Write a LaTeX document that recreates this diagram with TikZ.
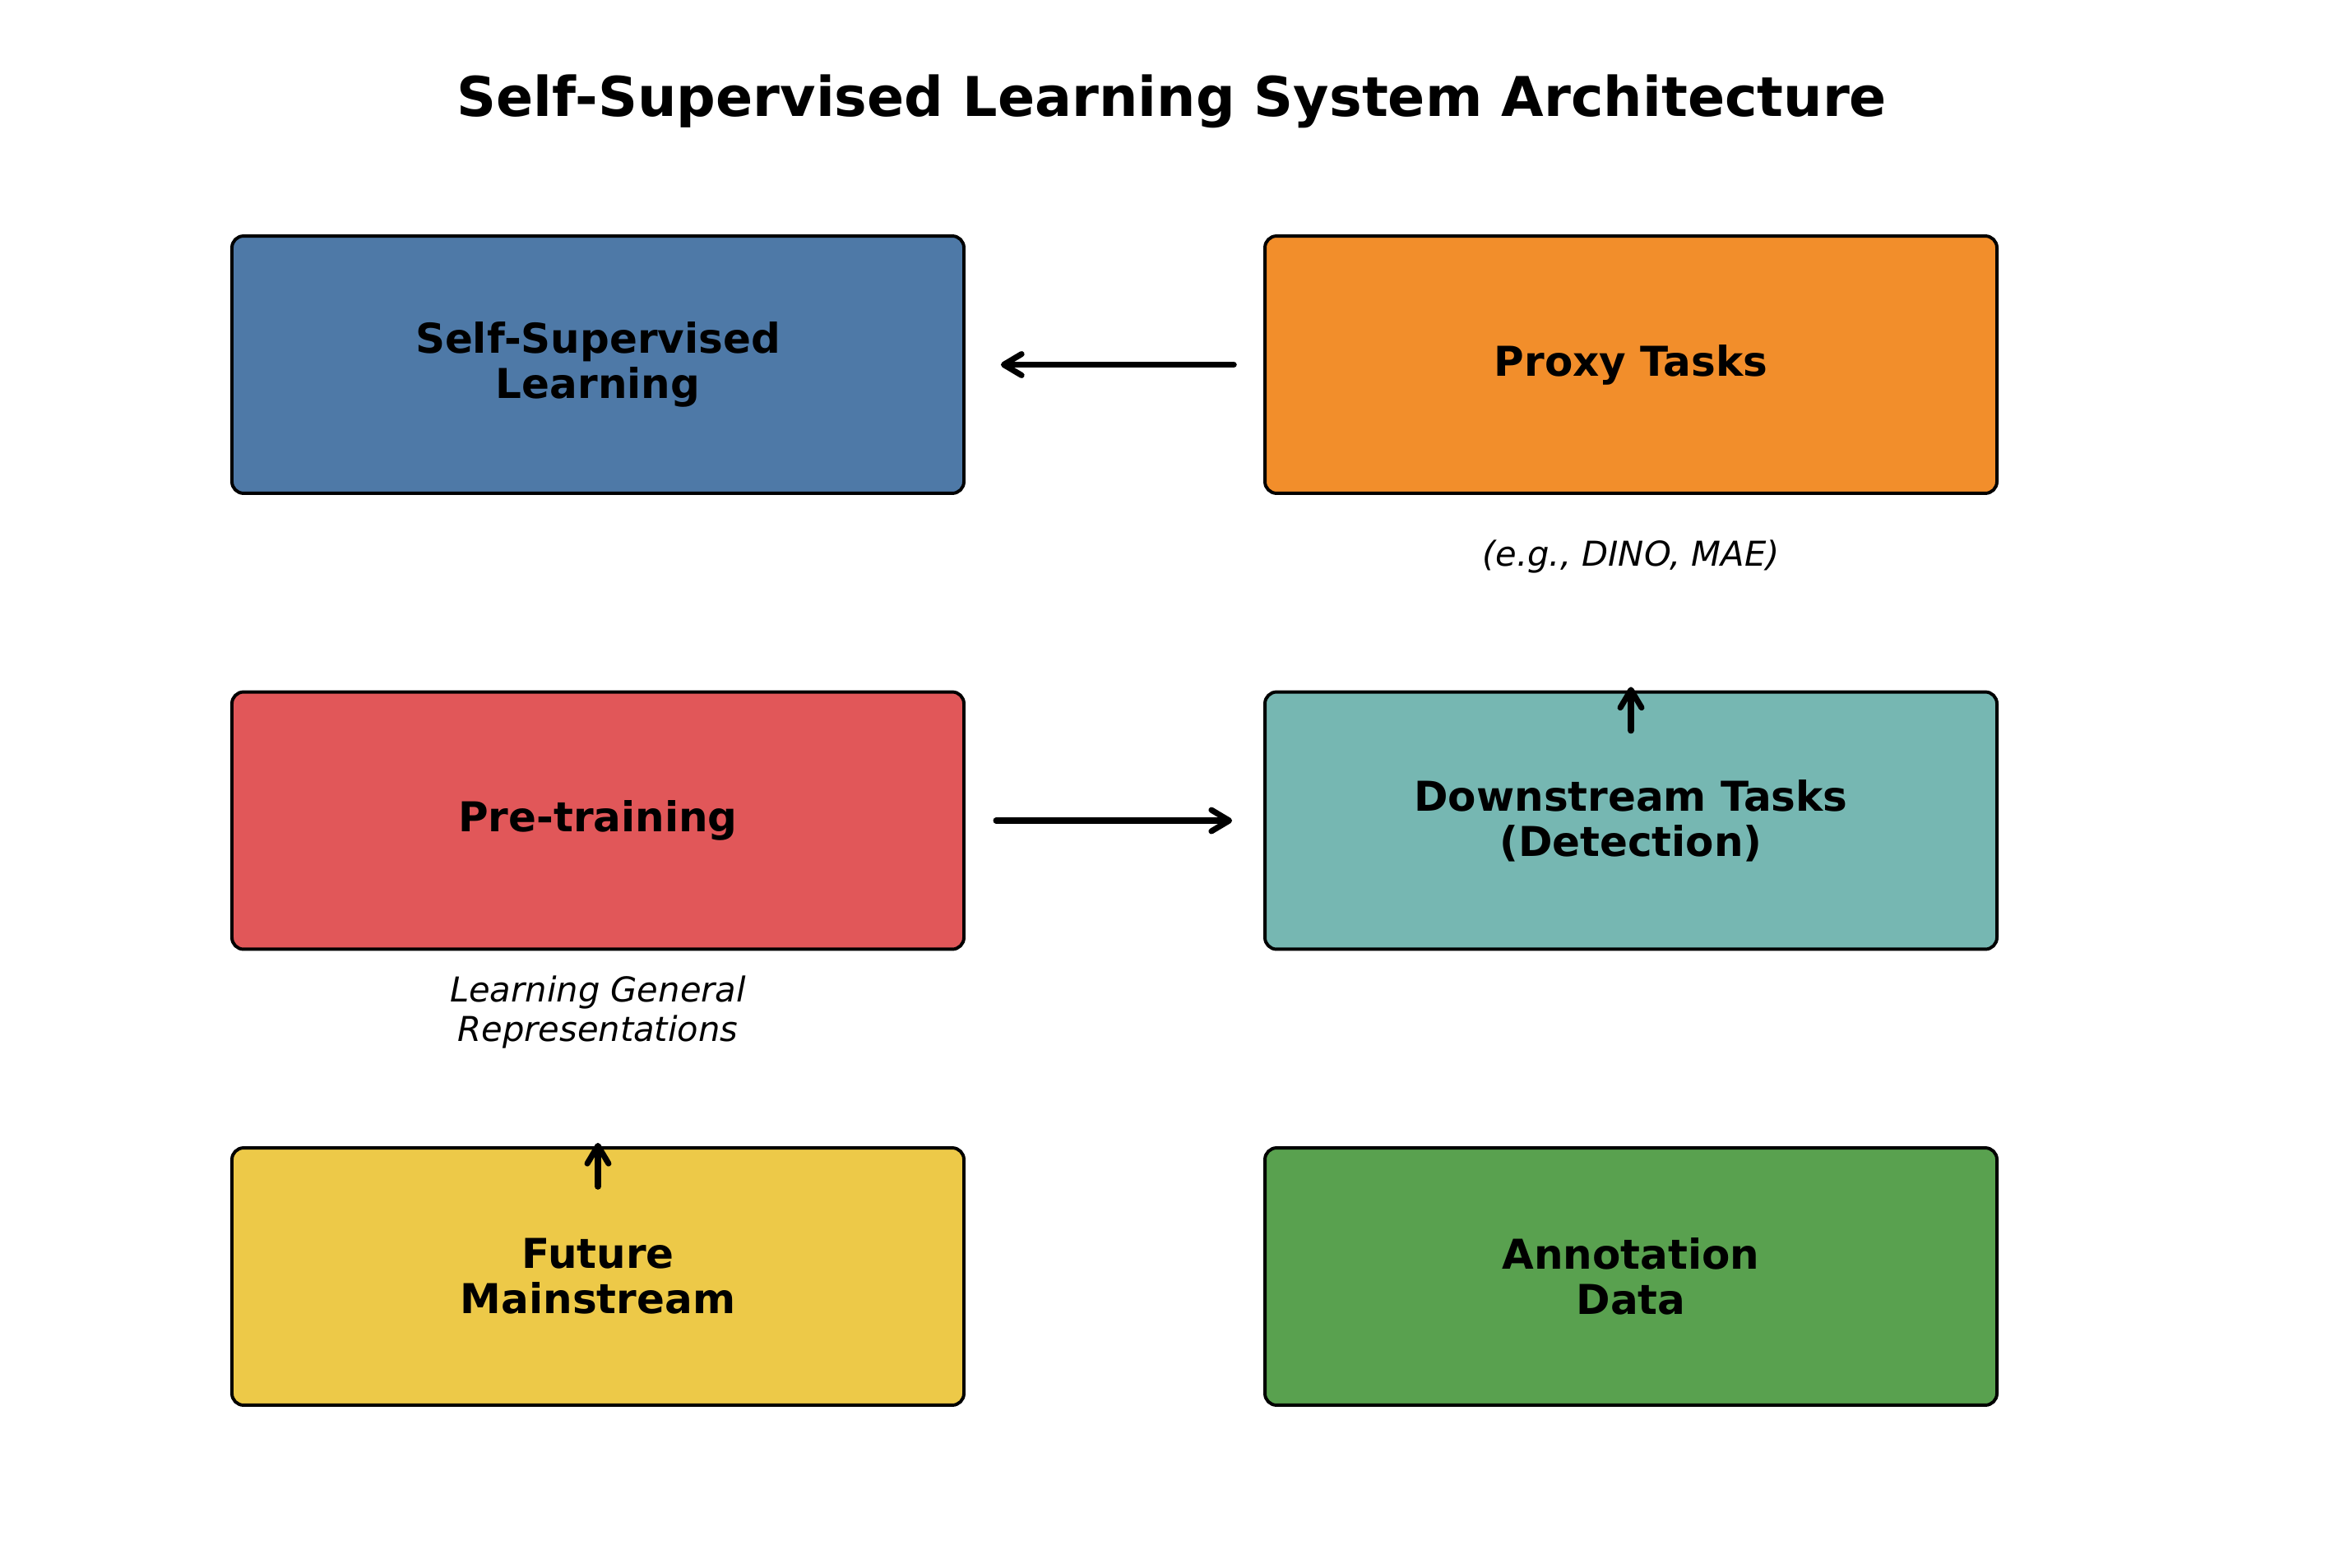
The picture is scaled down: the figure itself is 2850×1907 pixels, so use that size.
\documentclass[tikz,border=0pt]{standalone}
\usepackage{fontspec}
\setmainfont{DejaVu Sans}
\usetikzlibrary{arrows.meta}
\definecolor{cblue}{HTML}{4E79A7}
\definecolor{corange}{HTML}{F28E2B}
\definecolor{cred}{HTML}{E15759}
\definecolor{cteal}{HTML}{76B7B2}
\definecolor{cyellow}{HTML}{EDC948}
\definecolor{cgreen}{HTML}{59A14F}
\tikzset{
  box/.style={draw=black, line width=0.95pt, rounded corners=3.4pt,
    minimum width=213.6pt, minimum height=75.1pt, inner sep=0pt,
    align=center, font=\fontsize{12}{13.2}\selectfont\bfseries},
  note/.style={align=center, inner sep=0pt, font=\fontsize{10}{11.5}\selectfont\itshape},
  arr/.style={line width=1.7pt, line cap=round,
    -{Straight Barb[length=5.2pt,width=6.2pt,line cap=round,line join=round]}},
}
\begin{document}
\begin{tikzpicture}[x=0.24pt,y=-0.24pt]
\useasboundingbox (0,0) rectangle (2850,1907);
\node[anchor=base, inner sep=0pt, font=\fontsize{16}{19}\selectfont\bfseries] (title) at (1425,142) {Self-Supervised Learning System Architecture};
\node[box, fill=cblue] (ssl) at (727,443.5) {Self-Supervised\\Learning};
\node[box, fill=corange] (proxy) at (1983,443.5) {Proxy Tasks};
\node[box, fill=cred] (pre) at (727,998) {Pre-training};
\node[box, fill=cteal] (down) at (1983,998) {Downstream Tasks\\(Detection)};
\node[box, fill=cyellow] (future) at (727,1552.5) {Future\\Mainstream};
\node[box, fill=cgreen] (annot) at (1983,1552.5) {Annotation\\Data};
\node[note, anchor=base] (n1) at (1983,688) {(e.g., DINO, MAE)};
\node[note] (n2) at (727,1231) {Learning General\\Representations};
\draw[arr, shorten <=8.6pt, shorten >=10.3pt] (proxy.west) -- (ssl.east);
\draw[arr, shorten <=8.9pt, shorten >=9.1pt] (pre.east) -- (down.west);
\draw[arr] ([yshift=-11.8pt]down.north) -- ([yshift=1pt]down.north);
\draw[arr] ([yshift=-11.8pt]future.north) -- ([yshift=1pt]future.north);
\end{tikzpicture}
\end{document}
